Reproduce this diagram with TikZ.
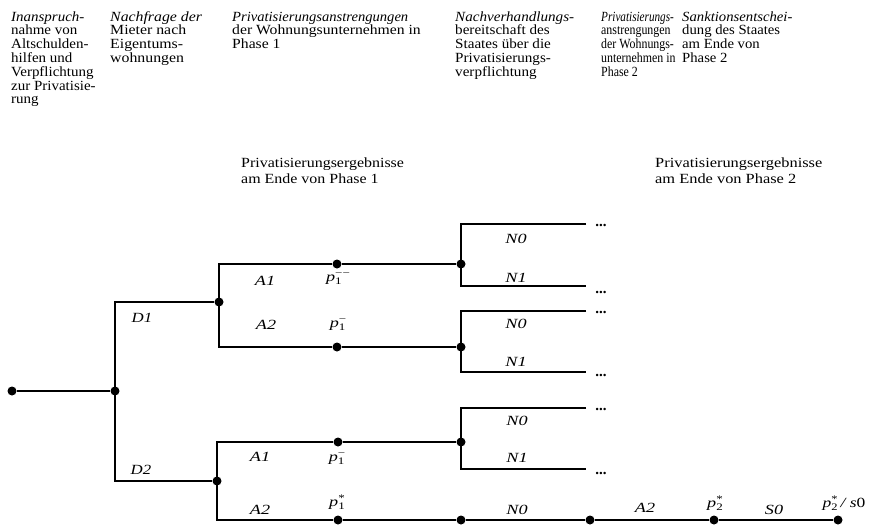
\documentclass[tikz,border=0pt]{standalone}
\usepackage{fontspec}
\usepackage{graphicx}
\setmainfont{Liberation Serif}
\newcommand\hs[2]{\scalebox{#1}[1]{#2}}
\newcommand\colhead[2]{\scalebox{#1}[1]{\begin{tabular}[t]{@{}l@{}}#2\end{tabular}}}
\newcommand\plab[2]{\textit{p}\rlap{\raisebox{-0.45ex}{\fontsize{10}{10}\selectfont #1}}\raisebox{0.8ex}{\fontsize{10}{10}\selectfont #2}}
\begin{document}
\begin{tikzpicture}[x=1pt,y=-1pt,
  dot/.style={circle,fill=black,inner sep=0pt,minimum size=9pt},
  lbl/.style={inner sep=0pt,font=\fontsize{14}{13.7}\selectfont},
  hdr/.style={lbl,anchor=base west},
  res/.style={inner sep=0pt,font=\fontsize{14}{16}\selectfont,anchor=base west},
  ml/.style={lbl,font=\fontsize{14}{13.7}\selectfont\itshape},
  edge/.style={line width=1.2pt,line join=miter},
  ell/.style={inner sep=0pt,font=\fontsize{15}{15}\selectfont\bfseries}]
\useasboundingbox (0,0) rectangle (873,525);

% headers
\node[hdr] (h1) at (11,21) {\colhead{1.07}{{\itshape Inanspruch-}\\nahme von\\Altschulden-\\hilfen und\\Verpflichtung\\zur Privatisie-\\rung}};
\node[hdr] (h2) at (110,21) {\colhead{1.13}{{\itshape Nachfrage der}\\Mieter nach\\Eigentums-\\wohnungen}};
\node[hdr] (h3) at (232,21) {\colhead{1.12}{\hs{0.93}{\itshape Privatisierungsanstrengungen}\\der Wohnungsunternehmen in\\Phase 1}};
\node[hdr] (h4) at (455,21) {\colhead{1.08}{{\itshape Nachverhandlungs-}\\bereitschaft des\\Staates über die\\Privatisierungs-\\verpflichtung}};
\node[hdr] (h5) at (601,21) {\colhead{0.85}{\hs{0.94}{\itshape Privatisierungs-}\\anstrengungen\\der Wohnungs-\\unternehmen in\\Phase 2}};
\node[hdr] (h6) at (682,21) {\colhead{1.05}{{\itshape Sanktionsentschei-}\\dung des Staates\\am Ende von\\Phase 2}};
\node[res] (r1) at (241,167) {\colhead{1.14}{Privatisierungsergebnisse\\am Ende von Phase 1}};
\node[res] (r2) at (655,167) {\colhead{1.17}{Privatisierungsergebnisse\\am Ende von Phase 2}};

% dots
\node[dot] (r) at (12,391) {};
\node[dot] (d0) at (115,391) {};
\node[dot] (a1) at (219,302) {};
\node[dot] (a2) at (217,481) {};
\node[dot] (p11) at (337,264) {};
\node[dot] (n11) at (461,264) {};
\node[dot] (p12) at (337,347) {};
\node[dot] (n12) at (461,347) {};
\node[dot] (p21) at (338,442) {};
\node[dot] (n21) at (461,442) {};
\node[dot] (p22) at (338,520) {};
\node[dot] (n22) at (461,520) {};
\node[dot] (q) at (590,520) {};
\node[dot] (p2) at (714,520) {};
\node[dot] (e) at (838,520) {};

% corner coordinates
\coordinate (d0t) at (115,302);
\coordinate (d0b) at (115,481);
\coordinate (a1t) at (219,264);
\coordinate (a1b) at (219,347);
\coordinate (a2t) at (217,442);
\coordinate (a2b) at (217,520);
\coordinate (n11t) at (461,224); \coordinate (n11b) at (461,286);
\coordinate (n11te) at (586,224); \coordinate (n11be) at (586,286);
\coordinate (n12t) at (461,311); \coordinate (n12b) at (461,372);
\coordinate (n12te) at (586,311); \coordinate (n12be) at (586,372);
\coordinate (n21t) at (461,408); \coordinate (n21b) at (461,469);
\coordinate (n21te) at (586,408); \coordinate (n21be) at (586,469);

% edges
\draw[edge] (r) -- (d0);
\draw[edge] (a1) -- (d0t) -- (d0b) -- (a2);
\draw[edge] (p11) -- (a1t) -- (a1b) -- (p12);
\draw[edge] (p11) -- (n11);
\draw[edge] (p12) -- (n12);
\draw[edge] (n11te) -- (n11t) -- (n11b) -- (n11be);
\draw[edge] (n12te) -- (n12t) -- (n12b) -- (n12be);
\draw[edge] (p21) -- (a2t) -- (a2b) -- (p22);
\draw[edge] (p21) -- (n21);
\draw[edge] (n21te) -- (n21t) -- (n21b) -- (n21be);
\draw[edge] (p22) -- (n22) -- (q) -- (p2) -- (e);

% labels
\node[ml] (lD1) at (142,318) {\hs{1.2}{D1}};
\node[ml] (lD2) at (141,470) {\hs{1.2}{D2}};
\node[ml] (lA11) at (265,281) {\hs{1.3}{A1}};
\node[ml] (lA12) at (266,325) {\hs{1.3}{A2}};
\node[lbl] (lp11) at (338,279) {\hs{1.3}{\plab{1}{−−}}};
\node[lbl] (lp12) at (338,325) {\hs{1.3}{\plab{1}{−}}};
\node[ml] (lN011) at (516,239) {\hs{1.3}{N0}};
\node[ml] (lN111) at (516,278) {\hs{1.3}{N1}};
\node[ml] (lN012) at (516,324) {\hs{1.3}{N0}};
\node[ml] (lN112) at (516,362) {\hs{1.3}{N1}};
\node[ml] (lA21) at (260,457) {\hs{1.3}{A1}};
\node[lbl] (lp21) at (337,459) {\hs{1.3}{\plab{1}{−}}};
\node[ml] (lN021) at (517,421) {\hs{1.3}{N0}};
\node[ml] (lN121) at (517,458) {\hs{1.3}{N1}};
\node[ml] (lA22) at (260,510) {\hs{1.3}{A2}};
\node[lbl] (lp22) at (337,502) {\hs{1.3}{\plab{1}{*}}};
\node[ml] (lN022) at (517,510) {\hs{1.3}{N0}};
\node[ml] (lA2b) at (645,508) {\hs{1.3}{A2}};
\node[lbl] (lp2) at (715,503) {\hs{1.3}{\plab{2}{*}}};
\node[ml] (lS0) at (774,510) {\hs{1.3}{S0}};
\node[lbl] (le) at (844,503) {\hs{1.25}{\plab{2}{*}\,\textit{/ s}0}};

% ellipses
\node[ell] (e1) at (601,225) {...};
\node[ell] (e2) at (601,292) {...};
\node[ell] (e3) at (601,312) {...};
\node[ell] (e4) at (601,375) {...};
\node[ell] (e5) at (601,409) {...};
\node[ell] (e6) at (601,473) {...};
\end{tikzpicture}
\end{document}
